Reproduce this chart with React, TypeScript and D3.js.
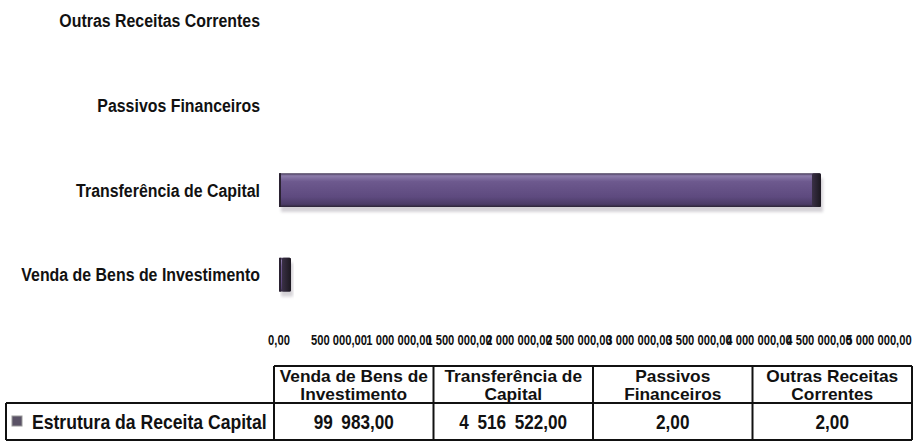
import React from "react";
import * as d3 from "d3";

const categories = [
  "Venda de Bens de Investimento",
  "Transferência de Capital",
  "Passivos Financeiros",
  "Outras Receitas Correntes",
];
const values = [99983, 4516522, 2, 2];
const headerLines = [
  ["Venda de Bens de", "Investimento"],
  ["Transferência de", "Capital"],
  ["Passivos", "Financeiros"],
  ["Outras Receitas", "Correntes"],
];
const seriesName = "Estrutura da Receita Capital";
const xTickValues = [0, 500000, 1000000, 1500000, 2000000, 2500000, 3000000, 3500000, 4000000, 4500000, 5000000];

const W = 916;
const H = 443;
const FONT = "'Liberation Sans', Arial, Helvetica, sans-serif";

const axisLocale = d3.formatLocale({ decimal: ",", thousands: " ", grouping: [3], currency: ["", ""] });
const tableLocale = d3.formatLocale({ decimal: ",", thousands: "\u2002", grouping: [3], currency: ["", ""] });
const fmtAxis = axisLocale.format(",.2f");
const fmtTable = tableLocale.format(",.2f");

function T(props: { x: number; y: number; size: number; sx?: number; anchor?: string; children: any }) {
  const { x, y, size, sx = 0.9, anchor = "middle", children } = props;
  return (
    <text
      transform={`translate(${x},${y}) scale(${sx},1)`}
      textAnchor={anchor as any}
      fontSize={size}
      fontWeight="bold"
      fontFamily={FONT}
      fill="#111"
    >
      {children}
    </text>
  );
}

export default function App() {
  const x = d3.scaleLinear().domain([0, 5000000]).range([279, 879]);
  const y = d3
    .scaleBand<string>()
    .domain([...categories].reverse())
    .range([-21.5, 317])
    .paddingInner(0.6)
    .paddingOuter(0.3);
  const bh = y.bandwidth();

  const col = d3.scaleBand<string>().domain(categories).range([274, 912]);
  const tableTop = 366;
  const headerBottom = 403;
  const tableBottom = 440;
  const legendLeft = 6;

  return (
    <svg width={W} height={H} style={{ position: "absolute", left: 0, top: 0, background: "#fff" }}>
      <defs>
        <linearGradient id="barGrad" x1="0" y1="0" x2="0" y2="1">
          <stop offset="0" stopColor="#3e3350" />
          <stop offset="0.08" stopColor="#8c7caa" />
          <stop offset="0.25" stopColor="#6d598e" />
          <stop offset="0.7" stopColor="#5e4a7f" />
          <stop offset="0.92" stopColor="#4b3b66" />
          <stop offset="1" stopColor="#2c2436" />
        </linearGradient>
        <linearGradient id="capGrad" x1="0" y1="0" x2="1" y2="0">
          <stop offset="0" stopColor="#3a3046" />
          <stop offset="1" stopColor="#1c1820" />
        </linearGradient>
        <filter id="shadow" x="-5%" y="-50%" width="110%" height="200%">
          <feGaussianBlur stdDeviation="1.5" />
        </filter>
      </defs>

      {/* category labels */}
      {categories.map((c) => (
        <T key={c} x={260} y={(y(c) as number) + bh / 2 + 6.5} size={18.5} sx={0.86} anchor="end">
          {c}
        </T>
      ))}

      {/* bars */}
      {categories.map((c, i) => {
        const v = values[i];
        const x0 = x(0);
        const w = x(v) - x0;
        if (w < 1) return null;
        const yy = y(c) as number;
        const cap = Math.min(9, w);
        return (
          <g key={c}>
            <rect x={x0 + 2} y={yy + 5} width={w} height={bh} fill="#b8b4bc" opacity={0.6} filter="url(#shadow)" />
            <rect x={x0} y={yy} width={w} height={bh} fill="url(#barGrad)" rx={1.5} />
            <rect x={x0 + w - cap} y={yy} width={cap} height={bh} fill="url(#capGrad)" rx={1.5} />
            <rect x={x0} y={yy} width={Math.min(2, w)} height={bh} fill="#2a2232" />
          </g>
        );
      })}

      {/* x axis tick labels */}
      {xTickValues.map((t) => (
        <T key={t} x={x(t)} y={345} size={14} sx={0.8}>
          {fmtAxis(t)}
        </T>
      ))}

      {/* data table */}
      <g stroke="#111" strokeWidth={2} fill="none">
        <line x1={274} x2={912} y1={tableTop} y2={tableTop} />
        <line x1={legendLeft} x2={912} y1={headerBottom} y2={headerBottom} />
        <line x1={legendLeft} x2={912} y1={tableBottom} y2={tableBottom} />
        <line x1={legendLeft} x2={legendLeft} y1={headerBottom} y2={tableBottom} />
        {categories.map((c) => (
          <line key={c} x1={col(c) as number} x2={col(c) as number} y1={tableTop} y2={tableBottom} />
        ))}
        <line x1={912} x2={912} y1={tableTop} y2={tableBottom} />
      </g>
      {categories.map((c, i) => {
        const cx = (col(c) as number) + col.bandwidth() / 2;
        return (
          <g key={c}>
            <T x={cx} y={tableTop + 16} size={16.5} sx={1.05}>
              {headerLines[i][0]}
            </T>
            <T x={cx} y={tableTop + 33.5} size={16.5} sx={1.05}>
              {headerLines[i][1]}
            </T>
            <T x={cx} y={headerBottom + 26} size={19.5} sx={0.88}>
              {fmtTable(values[i])}
            </T>
          </g>
        );
      })}
      <rect x={12} y={416} width={10} height={10} fill="#5a5266" stroke="#999" strokeWidth={1} />
      <T x={32} y={429} size={20} sx={0.88} anchor="start">
        {seriesName}
      </T>
    </svg>
  );
}
